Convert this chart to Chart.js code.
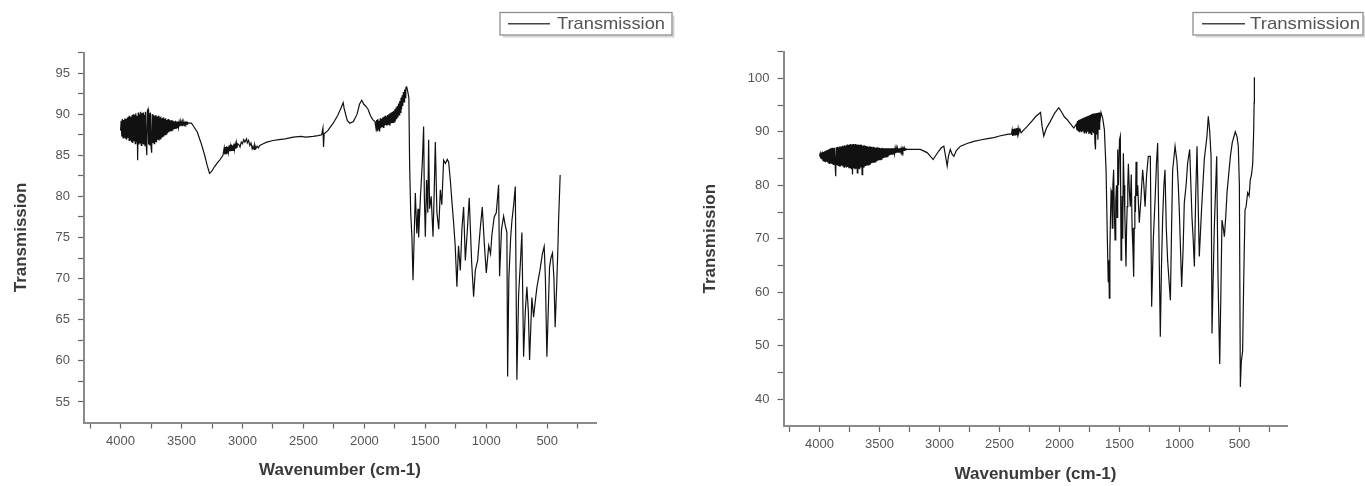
<!DOCTYPE html>
<html><head><meta charset="utf-8">
<script src="https://cdn.jsdelivr.net/npm/chart.js@4.4.1/dist/chart.umd.min.js"></script>
<style>
html,body{margin:0;padding:0;background:#fff;width:1365px;height:486px;overflow:hidden}
.wrap{position:absolute;top:0;height:486px}
#w1{left:0;width:683px}
#w2{left:683px;width:682px}
canvas{display:block}
</style></head><body>
<div class="wrap" id="w1"><canvas id="c1" width="683" height="486"></canvas></div>
<div class="wrap" id="w2"><canvas id="c2" width="682" height="486"></canvas></div>
<script>
const seriesLabel = 'Transmission';
const xAxisTitle = 'Wavenumber (cm-1)';
const yAxisTitle = 'Transmission';

const leftWavenumber = [4000,3995,3990,3985,3980,3975,3970,3965,3960,3955,3950,3945,3940,3935,3930,3925,3920,3915,3910,3905,3900,3895,3890,3885,3880,3875,3870,3865,3860,3855,3850,3845,3840,3835,3830,3825,3820,3815,3810,3805,3800,3795,3790,3785,3780,3775,3770,3765,3760,3755,3750,3745,3740,3735,3730,3725,3720,3715,3710,3705,3700,3695,3690,3685,3680,3675,3670,3665,3660,3655,3650,3645,3640,3635,3630,3625,3620,3615,3610,3605,3600,3595,3590,3585,3580,3575,3570,3565,3560,3555,3550,3545,3540,3535,3530,3525,3520,3515,3510,3505,3500,3495,3490,3485,3480,3475,3470,3465,3460,3455,3450,3440,3430,3419,
3400,3370,3340,3310,3290,3270,3255,3230,3200,3187,3160,3150,3145,3140,3135,3130,3125,3120,3115,3110,3105,3100,3095,3090,3085,3080,3075,3070,3065,3060,3055,3050,3045,3040,3030,3020,3010,3000,2990,2980,2967,2960,2950,2940,2930,2920,2913,2905,2900,2890,2880,2870,2858,2830,2800,2749,2700,2650,2584,2520,2480,2420,2380,2350,2340,2335,2330,2300,2256,2220,2190,2174,2165,2140,2119,2090,2060,2040,2022,2005,1990,1970,1950,1930,
1913,1905,1900,1895,1890,1885,1880,1875,1870,1865,1860,1855,1850,1845,1840,1835,1830,1825,1820,1815,1810,1805,1800,1795,1790,1785,1780,1775,1770,1765,1760,1755,1750,1745,1740,1735,1730,1725,1720,1715,1710,1705,1700,1695,1690,1685,1680,1675,1670,1665,1660,1653,1645,
1635,1629,1620,1610,1601,1590,1582,1570,1560,1555,1540,1525,1514,1508,1500,1490,1480,1473,1465,1452,1437,1428,1418,1405,1390,1377,1365,1350,1335,1320,1309,1295,1280,1268,1255,1241,1228,1213,1200,1186,1172,1155,1140,1120,1104,1090,1071,1050,1033,1015,1000,980,965,954,935,918,899,891,875,858,845,831,825,815,800,790,775,762,749,735,720,708,694,680,667,655,645,635,626,612,600,585,560,540,525,515,503,492,481,470,457,445,435,421,412,407,400,394];
const leftTransmission = [88.0,89.2,87.3,89.4,87.1,89.3,87.2,89.5,87.0,89.4,86.9,89.6,87.1,89.7,86.8,89.8,86.9,89.7,86.6,89.9,86.5,90.0,86.7,89.9,86.4,90.1,86.6,89.8,84.4,90.2,86.3,90.0,86.5,90.3,86.2,90.1,86.4,90.2,86.3,89.9,86.1,90.3,86.4,85.0,90.4,90.6,86.3,90.1,86.2,90.2,86.0,85.3,90.0,86.5,89.9,86.4,89.8,86.7,89.9,86.6,89.7,86.9,89.8,86.8,89.6,87.0,89.7,87.1,89.5,87.2,89.6,87.3,89.4,87.5,89.5,87.6,89.3,87.7,89.4,87.8,89.3,87.9,89.2,88.0,89.3,88.1,89.2,88.2,89.1,88.2,89.2,88.3,89.1,88.4,89.1,88.4,89.0,88.5,89.1,88.6,89.0,88.6,89.0,88.7,89.0,88.7,89.0,88.8,89.0,88.8,89.0,88.9,88.9,88.9,
88.5,87.8,86.5,85.0,83.8,82.8,83.0,83.6,84.2,84.4,85.0,85.9,85.1,86.0,85.2,86.1,85.3,86.0,85.4,86.2,85.5,86.1,85.5,86.3,85.6,86.2,85.6,86.4,85.7,86.3,85.8,86.5,85.9,86.4,86.3,86.0,86.6,86.4,86.9,86.6,87.0,86.5,86.8,86.2,86.5,85.8,86.1,85.7,86.3,85.8,86.1,85.9,86.2,86.4,86.6,86.8,86.9,87.0,87.2,87.3,87.2,87.3,87.4,87.5,88.3,86.0,87.6,88.0,88.9,89.8,90.8,91.4,90.6,89.2,88.9,89.1,90.0,91.2,91.7,91.2,91.0,90.6,89.8,89.3,
89.1,88.3,89.3,88.0,89.4,88.1,89.2,87.9,89.5,88.3,89.4,88.5,89.6,88.4,89.7,88.6,89.8,88.7,89.7,88.6,89.9,88.8,90.0,88.7,90.1,88.9,90.2,88.9,90.3,89.0,90.4,89.1,90.6,89.2,90.8,89.4,91.0,89.6,91.3,89.9,91.6,90.2,92.0,90.6,92.3,91.0,92.7,91.5,93.0,92.0,93.2,93.3,92.8,
92.0,84.0,78.0,75.0,69.8,76,80.4,75.5,78.5,75,80,84,88.5,80,75.1,82,78,86.9,78.5,80,75.1,80,86.6,78,76,80.8,79,84.4,84.0,84.5,84.2,82,79,76.8,74,69,74,71,76,78.7,72.2,76,79.8,72,67.8,71,72.2,76,78.7,74,70.7,74,73,75.3,77.5,78,81.4,70.3,76,77.6,76.5,75.6,58.1,70,75,77,79,81.2,57.7,68,72,75.6,60.5,66,69,66,60.1,64,67.7,65.3,67,68.9,71,73,73.9,70,60.5,66,71.4,72.5,73.1,70,64.1,69.8,74,77.1,80,82.6];

const rightWavenumber = [4000,3995,3990,3985,3980,3975,3970,3965,3960,3955,3950,3945,3940,3935,3930,3925,3920,3915,3910,3905,3900,3895,3890,3885,3880,3875,3870,3865,3860,3855,3850,3845,3840,3835,3830,3825,3820,3815,3810,3805,3800,3795,3790,3785,3780,3775,3770,3765,3760,3755,3750,3745,3740,3735,3730,3725,3720,3715,3710,3705,3700,3695,3690,3685,3680,3675,3670,3665,3660,3655,3650,3645,3640,3635,3630,3625,3620,3615,3610,3605,3600,3595,3590,3585,3580,3575,3570,3565,3560,3555,3550,3545,3540,3535,3530,3525,3520,3515,3510,3505,3500,3495,3490,3485,3480,3475,3470,3465,3460,3455,3450,3445,3440,3435,3430,3425,3420,3415,3410,3405,3400,3395,3390,3385,3380,3375,3370,3365,3360,3355,3350,3345,3340,3335,3330,3325,3320,3315,3310,3305,3300,3295,3290,3285,3280,3270,3250,
3200,3160,3103,3075,3053,3030,3006,2985,2964,2950,2936,2925,2910,2895,2880,2860,2825,2770,2714,2650,2600,2547,2500,2436,2400,2395,2390,2385,2380,2375,2370,2365,2360,2355,2350,2345,2340,2330,2320,2300,2269,2230,2200,2158,2145,2131,2110,2080,2040,2006,1980,1960,1937,1910,1881,
1860,1855,1850,1845,1840,1835,1830,1825,1820,1815,1810,1805,1800,1795,1790,1785,1780,1775,1770,1765,1760,1755,1750,1745,1740,1735,1730,1725,1720,1715,1710,1705,1700,1695,1690,1685,1680,1675,1670,1665,1660,1654,
1640,1626,1612,1599,1594,1589,1585,1580,1575,1570,1565,1560,1555,1549,1543,1537,1531,1525,1520,1515,1508,1500,1493,1487,1482,1478,1473,1468,1462,1456,1451,1446,1441,1436,1431,1426,1418,1410,1402,1395,1388,1382,1377,1372,1367,1362,1355,1348,1341,1335,1320,1307,1297,1287,1274,1260,1243,1232,1218,1204,1192,1182,1160,1150,1140,1130,1121,1110,1099,1076,1066,1057,1047,1037,1021,1010,1001,982,970,960,945,932,915,905,896,886,876,865,854,845,835,815,793,771,760,748,737,729,720,710,690,680,665,655,646,635,626,615,604,576,560,535,520,510,501,493,485,474,465,454,445,432,420,410,400,390,382,378,376];
const rightTransmission = [85.4,85.9,85.0,86.1,84.8,86.3,84.6,86.2,84.5,86.4,84.3,86.5,84.4,86.6,84.2,86.7,84.1,86.8,84.2,86.9,84.0,87.0,83.9,86.9,83.8,87.0,84.0,81.7,87.1,83.8,87.2,83.7,87.1,83.6,87.3,83.5,87.2,83.7,87.4,83.5,87.3,83.4,87.5,83.6,87.4,83.3,87.6,83.4,87.5,83.2,87.6,83.3,87.7,83.1,87.6,82.0,87.7,83.2,87.6,83.0,87.7,83.2,87.6,82.3,87.6,83.1,87.5,83.0,87.6,83.3,87.5,82.0,87.4,83.4,87.5,83.5,87.4,83.6,87.3,83.7,87.3,83.8,87.2,83.9,87.3,84.0,87.2,84.1,87.1,84.2,87.2,84.3,87.1,84.4,87.0,84.5,87.1,84.6,87.0,84.7,87.0,84.8,86.9,84.9,87.0,85.0,86.9,85.1,86.9,85.2,86.9,85.3,86.9,85.4,86.9,85.5,86.9,85.6,86.9,85.7,86.9,85.8,86.9,85.9,86.9,85.9,86.9,86.0,86.9,86.1,86.9,86.2,86.9,86.2,86.9,86.3,86.9,86.4,86.9,86.4,86.9,86.5,86.9,86.6,86.8,86.7,86.7,
86.7,86.7,86.1,85.4,84.8,85.6,86.4,87.0,87.3,85.5,83.6,85.5,86.7,85.8,85.4,86.5,87.3,87.8,88.2,88.5,88.7,88.9,89.2,89.5,89.6,90.3,89.2,90.5,89.3,90.6,89.4,90.6,89.5,90.7,89.6,90.6,89.7,90.5,89.8,90.3,91.0,92.0,92.8,93.6,91.0,89.2,90.6,91.8,93.5,94.5,93.6,92.8,92.3,91.5,90.7,
91.4,90.3,92.0,90.2,92.2,90.0,92.3,90.1,92.4,89.9,92.5,90.1,92.6,89.8,92.7,90.0,92.8,89.7,92.9,90.0,93.0,89.6,93.1,89.8,93.2,89.5,93.3,89.9,93.4,89.7,93.4,88.0,86.7,93.5,89.5,93.5,88.5,93.6,90.5,93.6,92.5,93.6,
92.5,90.4,82.9,67.3,62,66,58.9,68,74,79,78.6,72,80,82.9,75,69.8,77,80,74,86.7,80,88.5,89.2,66.0,72,78,70,86.0,80,75,70,64.8,72,76,80,84.0,79,76.0,82,72,68,62.9,72,78,75,84.4,78,80,76,73.0,78,82.9,80,76.0,82,85.4,85.4,57.3,70,77.0,84,87.9,51.7,65,74.2,80,82.9,72.0,66,58.5,72,82.9,85,87.3,84.4,80,74.8,61.0,68,76.7,80,84.2,86.7,80,74.0,70,64.8,78,87.3,77.0,66.7,76,84.9,89.2,92.9,90,85.4,52.3,62,72.0,85.4,64,46.6,60,73.5,72,70.4,74,78.6,85.4,88,90.0,89,87.3,80.0,42.3,47,49.0,62,75.4,76,78.6,78,81.0,82,84,90,95.4,100.2];

const xTickValues = [4250,4000,3750,3500,3250,3000,2750,2500,2250,2000,1750,1500,1250,1000,750,500,250];
const xTickLabels = [4000,3500,3000,2500,2000,1500,1000,500];
const leftYTickValues = [55,57.5,60,62.5,65,67.5,70,72.5,75,77.5,80,82.5,85,87.5,90,92.5,95,97.5];
const leftYTickLabels = [55,60,65,70,75,80,85,90,95];
const rightYTickValues = [40,45,50,55,60,65,70,75,80,85,90,95,100,105];
const rightYTickLabels = [40,50,60,70,80,90,100];

const FONT = "'Liberation Sans', Arial, sans-serif";

const legendBox = {
  id: 'legendBox',
  afterDraw(chart, args, o) {
    const ctx = chart.ctx;
    const ds = chart.data.datasets[0];
    ctx.save();
    ctx.strokeStyle = '#d4d4d4'; ctx.lineWidth = 2;
    ctx.beginPath();
    ctx.moveTo(o.x + 3, o.y + o.h + 1.5);
    ctx.lineTo(o.x + o.w + 1.5, o.y + o.h + 1.5);
    ctx.lineTo(o.x + o.w + 1.5, o.y + 3);
    ctx.stroke();
    ctx.strokeStyle = '#8e8e8e'; ctx.lineWidth = 1.3;
    ctx.strokeRect(o.x, o.y, o.w, o.h);
    const my = o.y + o.h / 2;
    ctx.strokeStyle = '#444'; ctx.lineWidth = 1.3;
    ctx.beginPath(); ctx.moveTo(o.lx1, my); ctx.lineTo(o.lx2, my); ctx.stroke();
    ctx.fillStyle = '#555';
    ctx.font = '17px ' + FONT;
    ctx.textBaseline = 'middle';
    ctx.textAlign = 'left';
    const tw = ctx.measureText(ds.label).width;
    ctx.translate(o.tx, my + 1);
    ctx.scale(o.tw / tw, 1);
    ctx.fillText(ds.label, 0, 0);
    ctx.restore();
  }
};

function makeChart(id, wn, tr, yTicks, yLabels, yMin, yMax, L) {
  const pts = wn.map((x, i) => ({x: x, y: tr[i]}));
  return new Chart(document.getElementById(id), {
    type: 'line',
    data: { datasets: [{ label: seriesLabel, data: pts, borderColor: '#111', borderWidth: 1.2, pointRadius: 0, tension: 0, fill: false }] },
    plugins: [legendBox],
    options: {
      responsive: false,
      animation: false,
      layout: { padding: { left: 0, top: L.top, right: L.right, bottom: 0 } },
      plugins: {
        legend: { display: false },
        tooltip: { enabled: false },
        legendBox: L.legend
      },
      scales: {
        x: {
          type: 'linear', reverse: true, min: 100, max: 4300,
          afterBuildTicks: (a) => { a.ticks = xTickValues.map(v => ({value: v})); },
          afterFit: (s) => { s.height = L.xh; },
          grid: { drawOnChartArea: false, drawTicks: true, tickLength: 6, tickColor: '#666', tickWidth: 1.2 },
          border: { display: true, color: '#8a8a8a', width: 2 },
          ticks: { autoSkip: false, maxRotation: 0, padding: 5, color: '#555', font: { family: FONT, size: 13 },
                   callback: (v) => xTickLabels.includes(v) ? String(v) : '' },
          title: { display: true, text: xAxisTitle, color: '#3a3a3a', font: { family: FONT, size: 17, weight: 'bold' },
                   padding: { top: 0, bottom: L.xtp } }
        },
        y: {
          type: 'linear', min: yMin, max: yMax,
          afterBuildTicks: (a) => { a.ticks = yTicks.map(v => ({value: v})); },
          afterFit: (s) => { s.width = L.yw; },
          grid: { drawOnChartArea: false, drawTicks: true, tickLength: 6, tickColor: '#666', tickWidth: 1.2 },
          border: { display: true, color: '#8a8a8a', width: 2 },
          ticks: { autoSkip: false, padding: 8, color: '#555', font: { family: FONT, size: 13 },
                   callback: (v) => yLabels.includes(v) ? String(v) : '' },
          title: { display: true, text: yAxisTitle, color: '#3a3a3a', font: { family: FONT, size: 17, weight: 'bold' },
                   padding: { top: L.ytp, bottom: 0 } }
        }
      }
    }
  });
}

makeChart('c1', leftWavenumber, leftTransmission, leftYTickValues, leftYTickLabels, 52.5, 97.5,
  { top: 52.5, right: 87, xh: 63.5, yw: 84, xtp: 5, ytp: 11,
    legend: { x: 500, y: 12.5, w: 172, h: 22.5, lx1: 508, lx2: 550, tx: 557, tw: 108 } });
makeChart('c2', rightWavenumber, rightTransmission, rightYTickValues, rightYTickLabels, 35, 105,
  { top: 51.5, right: 77.5, xh: 60, yw: 100.5, xtp: 1, ytp: 17,
    legend: { x: 510, y: 12.5, w: 170, h: 22.5, lx1: 519, lx2: 562, tx: 567, tw: 110 } });
</script>
</body></html>
